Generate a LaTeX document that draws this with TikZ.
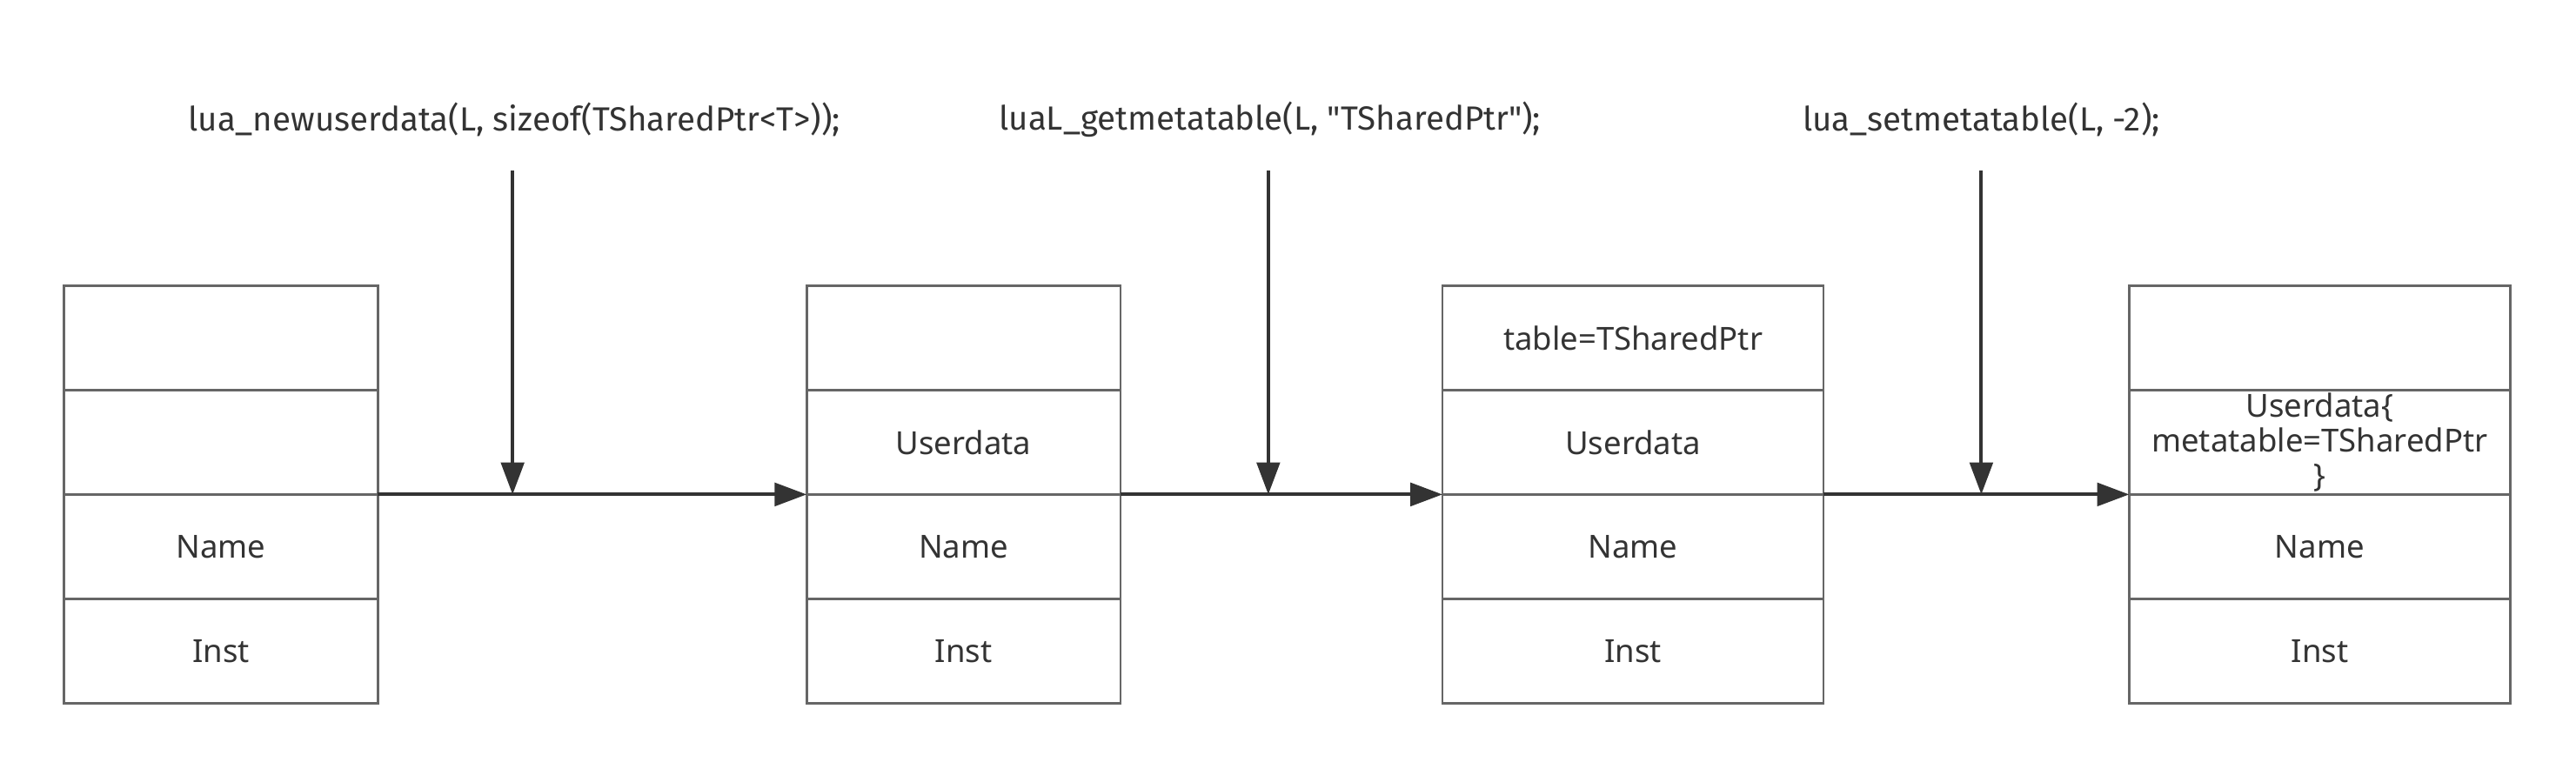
\documentclass[tikz,border=0pt]{standalone}
\usepackage{fontspec}
\setmainfont{Noto Sans}
\newfontfamily\callfont{Fira Sans}
\usepackage{tikz}
\usetikzlibrary{positioning,calc,arrows.meta}
\definecolor{boxline}{HTML}{666666}
\definecolor{ink}{HTML}{333333}
\tikzstyle{cell} = [draw=boxline, line width=0.8pt, rectangle, outer sep=0pt,
    minimum width=3.82cm, minimum height=1.27cm, inner sep=0pt,
    text=ink, font=\fontsize{11}{12}\selectfont, align=center]
\tikzstyle{widecell} = [cell, minimum width=4.64cm]
\tikzstyle{call} = [text=ink, font=\callfont\fontsize{11.6}{13}\selectfont]
\tikzstyle{arrow} = [line width=1.2pt, draw=ink, -{Triangle[length=0.39cm,width=0.28cm]}]

\begin{document}
\begin{tikzpicture}[node distance=0pt]
    \useasboundingbox (0,0) rectangle (31.36,9.36);
    % First stack, before the call
    \node [cell, anchor=north west] (a1) at (0.78,5.88) {};
    \node [cell, below=of a1] (a2) {};
    \node [cell, below=of a2] (a3) {Name};
    \node [cell, below=of a3] (a4) {Inst};
    % Second stack
    \node [cell, anchor=north west] (b1) at (9.82,5.88) {};
    \node [cell, below=of b1] (b2) {Userdata};
    \node [cell, below=of b2] (b3) {Name};
    \node [cell, below=of b3] (b4) {Inst};
    % Third stack, the metatable is pushed
    \node [widecell, anchor=north west] (c1) at (17.56,5.88) {table=TSharedPtr};
    \node [widecell, below=of c1] (c2) {Userdata};
    \node [widecell, below=of c2] (c3) {Name};
    \node [widecell, below=of c3] (c4) {Inst};
    % Fourth stack, after setmetatable
    \node [widecell, anchor=north west] (d1) at (25.92,5.88) {};
    \node [widecell, below=of d1] (d2) {Userdata\{\\metatable=TSharedPtr\\\}};
    \node [widecell, below=of d2] (d3) {Name};
    \node [widecell, below=of d3] (d4) {Inst};

    % The calls above each step
    \node [call] (f1) at (6.26,7.9) {lua\_newuserdata(L, sizeof(TSharedPtr<T>));};
    \node [call] (f2) at (15.46,7.9) {luaL\_getmetatable(L, "TSharedPtr");};
    \node [call] (f3) at (24.12,7.9) {lua\_setmetatable(L, -2);};
    \coordinate (t1) at (6.24,7.28);
    \coordinate (t2) at (15.44,7.28);
    \coordinate (t3) at (24.12,7.28);

    % Connect the stacks
    \draw [arrow] (a2.south east) -- (b3.north west);
    \draw [arrow] (b2.south east) -- (c3.north west);
    \draw [arrow] (c2.south east) -- (d3.north west);
    \draw [arrow] (t1) -- (t1 |- a2.south);
    \draw [arrow] (t2) -- (t2 |- b2.south);
    \draw [arrow] (t3) -- (t3 |- c2.south);
\end{tikzpicture}
\end{document}
